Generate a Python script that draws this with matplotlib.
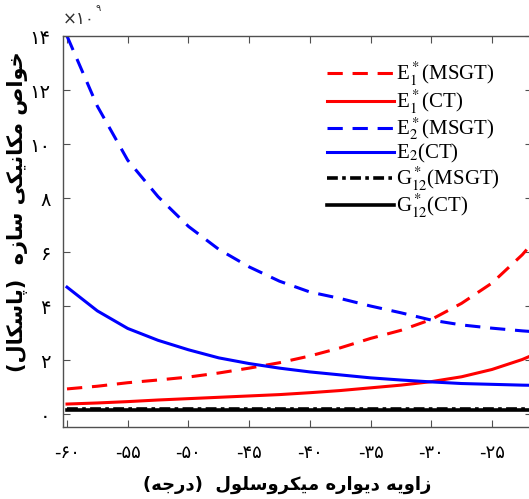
import matplotlib
matplotlib.use("Agg")
import matplotlib.pyplot as plt
from matplotlib.lines import Line2D

# ---------------- data (values in units of 1e9 Pa) ----------------
angle = [-60, -57.5, -55, -52.5, -50, -47.5, -45, -42.5, -40, -37.5,
         -35, -32.5, -30, -27.5, -25, -22.5, -20]
E1_msgt = [0.93, 1.03, 1.16, 1.26, 1.37, 1.52, 1.70, 1.90, 2.15, 2.45,
           2.80, 3.10, 3.50, 4.10, 4.85, 5.90, 7.20]
E1_ct = [0.37, 0.41, 0.46, 0.52, 0.57, 0.62, 0.67, 0.72, 0.79, 0.87,
         0.97, 1.07, 1.20, 1.38, 1.65, 2.02, 2.50]
E2_msgt = [14.0, 11.4, 9.4, 8.05, 6.95, 6.10, 5.45, 4.92, 4.52, 4.28,
           4.00, 3.75, 3.48, 3.30, 3.18, 3.08, 3.00]
E2_ct = [4.70, 3.82, 3.17, 2.73, 2.38, 2.08, 1.87, 1.70, 1.56, 1.45,
         1.34, 1.26, 1.19, 1.13, 1.10, 1.07, 1.05]
G12_msgt = [0.20] * 17
G12_ct = [0.16] * 17

xticks = [-60, -55, -50, -45, -40, -35, -30, -25]
xtick_labels = ["-۶۰", "-۵۵", "-۵۰", "-۴۵", "-۴۰", "-۳۵", "-۳۰", "-۲۵"]
yticks = [0, 2, 4, 6, 8, 10, 12, 14]
ytick_labels = ["۰", "۲", "۴", "۶", "۸", "۱۰", "۱۲", "۱۴"]

labels = [r"E$_1^*$(MSGT)", r"E$_1^*$(CT)", r"E$_2^*$(MSGT)", r"E$_2$(CT)",
          r"G$_{12}^*$(MSGT)", r"G$_{12}^*$(CT)"]

# Persian labels written in visual order with presentation forms
xlabel = ("(" + "\uFEEA\uFE9F\uFEAD\uFEA9" + ")" + "  "
          + "\uFEDD\uFEEE\uFEE0\uFEB3\uFEED\uFEAE\uFB91\uFBFF\uFEE3" + " "
          + "\uFEE9\uFEAD\uFE8D\uFEEE\uFBFE\uFEA9" + " "
          + "\uFEEA\uFBFE\uFEED\uFE8D\uFEAF")
ylabel = ("(" + "\uFEDD\uFE8E\uFB91\uFEB3\uFE8E\uFB58" + ")" + "  "
          + "\uFEE9\uFEAF\uFE8E\uFEB3" + " "
          + "\uFBFD\uFB91\uFBFF\uFEE7\uFE8E\uFB91\uFEE3" + " "
          + "\uFEB9\uFE8D\uFEEE\uFEA7")

plt.rcParams['mathtext.fontset'] = 'stix'

W, H = 529, 499
fig = plt.figure(figsize=(W / 100, H / 100), dpi=100)
# axes box in pixels: left 63, right 532 (beyond edge), top 36, bottom 427
ax = fig.add_axes([63 / W, 1 - 427 / H, (532 - 63) / W, (427 - 36) / H])

lw = 2.2
ax.plot(angle, E1_msgt, color='#ff0000', lw=lw, dashes=(5, 3.2))
ax.plot(angle, E1_ct, color='#ff0000', lw=lw)
ax.plot(angle, E2_msgt, color='#0000ff', lw=lw, dashes=(5, 3.2))
ax.plot(angle, E2_ct, color='#0000ff', lw=lw)
ax.plot(angle, G12_ct, color='black', lw=2.6)
ax.plot(angle, G12_msgt, color='black', lw=2.6, dashes=(3, 1.2, 1, 1.2))

ax.set_xlim(-60.33, -21.7)
ax.set_ylim(-0.48, 14)
ax.set_xticks(xticks)
ax.set_xticklabels(xtick_labels, family=['DejaVu Sans'], fontsize=13)
ax.set_yticks(yticks)
ax.set_yticklabels(ytick_labels, family=['DejaVu Sans'], fontsize=14)
ax.tick_params(direction='in', top=True, right=True, length=5, width=0.8,
               color='#505050', pad=9)
ax.tick_params(axis='x', pad=12)
for s in ax.spines.values():
    s.set_color('#505050')
    s.set_linewidth(1.0)

# offset text  x10^9
ax.text(0.0, 1.02, "×۱۰", transform=ax.transAxes, fontsize=12,
        family=['DejaVu Sans'], ha='left', va='bottom', color='#303030')
ax.text(0.07, 1.06, "۹", transform=ax.transAxes, fontsize=7,
        family=['DejaVu Sans'], ha='left', va='bottom', color='#303030')

fig.text(287 / W, 1 - 485 / H, xlabel, ha='center', va='center',
         fontsize=13, fontweight='bold', family=['DejaVu Sans'])
fig.text(18 / W, 1 - 212 / H, ylabel, ha='center', va='center',
         rotation=90, fontsize=15, fontweight='bold', family=['DejaVu Sans'])

handles = [
    Line2D([], [], color='#ff0000', lw=lw, dashes=(5, 3.2)),
    Line2D([], [], color='#ff0000', lw=lw),
    Line2D([], [], color='#0000ff', lw=lw, dashes=(5, 3.2)),
    Line2D([], [], color='#0000ff', lw=lw),
    Line2D([], [], color='black', lw=2.6, dashes=(3, 1.2, 1, 1.2)),
    Line2D([], [], color='black', lw=2.6),
]
leg = ax.legend(handles, labels, loc='upper left',
                bbox_to_anchor=((327 - 63) / 469, (427 - 61) / 391),
                frameon=False, handlelength=3.2, handletextpad=0.12,
                labelspacing=0.0, borderpad=0, borderaxespad=0,
                prop={'family': 'Liberation Serif', 'size': 15})

fig.savefig("out.png", dpi=100)
